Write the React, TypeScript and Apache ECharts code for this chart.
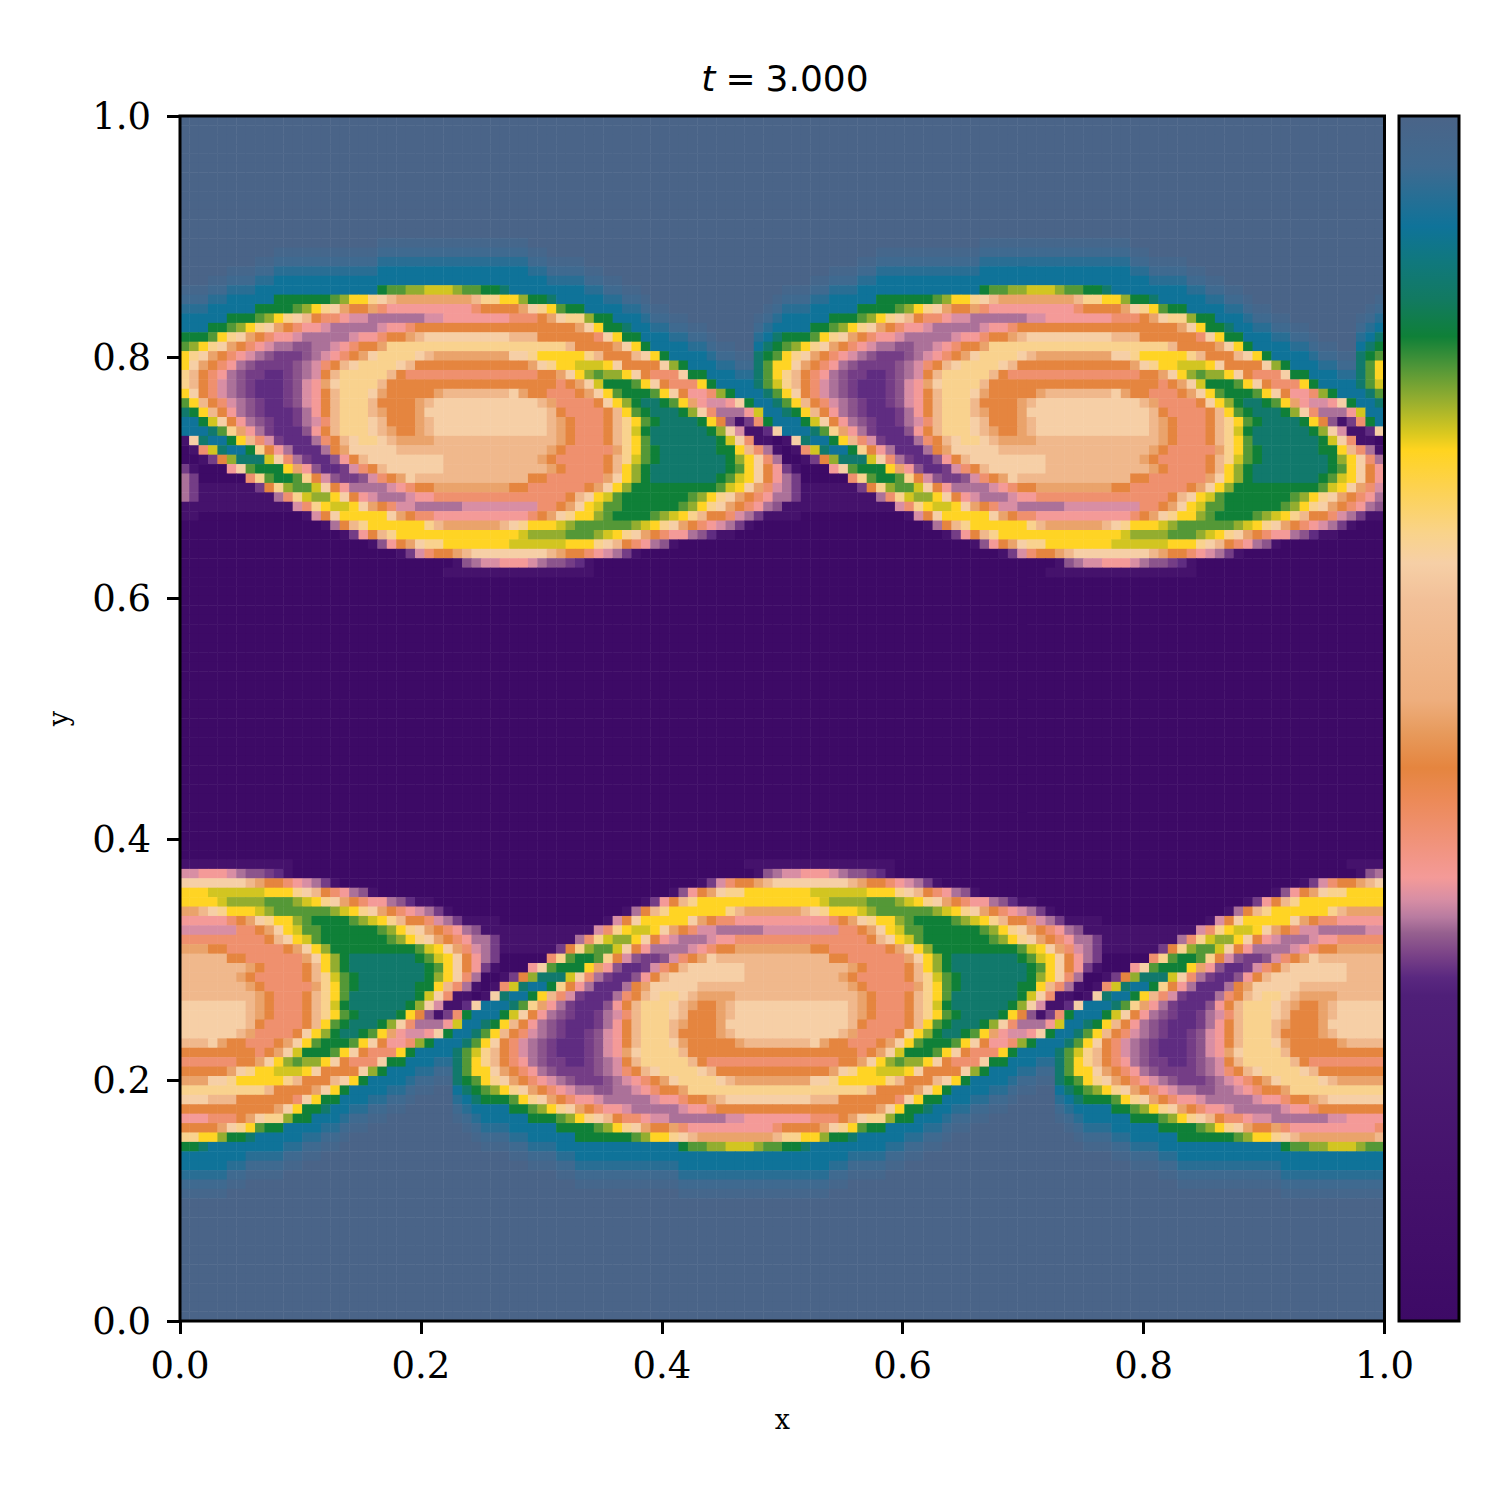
import React, { useEffect, useRef } from "react";
import * as echarts from "echarts";

const xTicks = [0, 0.2, 0.4, 0.6, 0.8, 1];
const colorStops: [number, string][] = [
  [0, "#3d0a66"], [0.12, "#45126c"], [0.27, "#4f1f78"], [0.285, "#5a2880"], [0.305, "#7c4488"],
  [0.322, "#96608f"], [0.335, "#b87ba0"], [0.35, "#d88ea4"], [0.368, "#f49a98"], [0.432, "#ec8a58"],
  [0.459, "#e5853f"], [0.488, "#e79a5c"], [0.515, "#eeae7d"], [0.598, "#f2c098"], [0.629, "#f6cfa6"],
  [0.654, "#f9d38a"], [0.695, "#fdd24b"], [0.723, "#ffd41f"], [0.737, "#d9c81f"], [0.764, "#96ae2f"],
  [0.792, "#4f9638"], [0.817, "#0f8038"], [0.847, "#127a60"], [0.88, "#10787e"], [0.908, "#0f7399"],
  [0.958, "#3f6a90"], [1, "#4a6488"],
];
const levels: Record<string, number> = {
  a: 0, b: 0.12, c: 0.288, d: 0.3, e: 0.315, f: 0.33, g: 0.35, h: 0.368, i: 0.41, j: 0.459, k: 0.5, l: 0.56,
  m: 0.629, n: 0.65, o: 0.72, p: 0.74, q: 0.765, r: 0.79, s: 0.817, t: 0.86, u: 0.908, y: 0.935, v: 0.958, x: 0.98, w: 1,
};

const rows: string[] = [
  ...Array(13).fill("w"),
  "wwwwwwwwwwwwwwww wwwwwxxxxxxxxxxx xxxxxwwwwwwwwwww wwwwwwwwwwwwwwww wwwwwwwwwwwwwwww wwwwwxxxxxxxxxxx xxxxxwwwwwwwwwww wwwwwwwwwwwwwwww",
  "wwwwwwwwwwxxxxxx xxxxxvvvvvvvvvvv vvvvvxxwwwwwwwww wwwwwwwwwwwwwwww wwwwwwwwwwxxxxxx xxxxxvvvvvvvvvvv vvvvvxxwwwwwwwww wwwwwwwwwwwwwwww",
  "wwwwwwwwxxvvvvvv vvvvvyyyyyyyyyyy yyyyyvvxxxxwwwww wwwwwwwwwwwwwwww wwwwwwwwxxvvvvvv vvvvvyyyyyyyyyyy yyyyyvvxxxxwwwww wwwwwwwwwwwwwwww",
  "wwwwwxxxvvyyyyyy yyyyyuuuuuuuuuuu uuuuuyyvvvvxxwww wwwwwwwwwwwwwwww wwwwwxxxvvyyyyyy yyyyyuuuuuuuuuuu uuuuuyyvvvvxxwww wwwwwwwwwwwwwwww",
  "wwwxxvvvyyuuuuuu uuuuuuuuuuuuuuuu uuuuuuuyyyyvvxxw wwwwwwwwwwwwwwww wwwxxvvvyyuuuuuu uuuuuuuuuuuuuuuu uuuuuuuyyyyvvxxw wwwwwwwwwwwwwwww",
  "xxxvvyyyuuuuuuuu uuuuusrrqqpppqrr sstuuuuuuuuyyvvx xwwwwwwwwwwwwwww xxxvvyyyuuuuuuuu uuuuusrrqqpppqrr sstuuuuuuuuyyvvx xwwwwwwwwwwwwwww",
  "vvvyyuuuuussssss rqoonmlkkkkkkkkl nnooqsstuuuuuyyv vxwwwwwwwwwwwwwx vvvyyuuuuussssss rqoonmlkkkkkkkkl nnooqsstuuuuuyyv vxwwwwwwwwwwwwwx",
  "yyyuuuuussssrqon mkjjkihhhhhhhhhi jjjjkmnorssuuuuy yvxxwwwwwwwwwwxv yyyuuuuussssrqon mkjjkihhhhhhhhhi jjjjkmnorssuuuuy yvxxwwwwwwwwwwxv",
  "uuuuusssrqonmlji ihggffffffgghhhh hhhiiijkmnnqssuu uyvvxxwwwwwwwxvy uuuuusssrqonmlji ihggffffffgghhhh hhhiiijkmnnqssuu uyvvxxwwwwwwwxvy",
  "uuussrqonmkjihhg fffffghhijjjjjjj jjjjjjjjjjkmosst uuyyvvxxwwwwwvyu uuussrqonmkjihhg fffffghhijjjjjjj jjjjjjjjjjkmosst uuyyvvxxwwwwwvyu",
  "sssronmkjihhgfff ffghhijjklmmmmmm mmmllljjjjjjimos suuuyyvvxwwwwyut sssronmkjihhgfff ffghhijjklmmmmmm mmmllljjjjjjimos suuuyyvvxwwwwyut",
  "rqonmkjihgffeeff ghijjknnnnnnnnnn nnnnnnnnnljjjjkm osuuuuyyvxxwwuts rqonmkjihgffeeff ghijjknnnnnnnnnn nnnnnnnnnljjjjkm osuuuuyyvxxwwuts",
  "onmkjihgfedddefg hijkmnnnnmlkkkkk kkkmmnooooonljjj lmosuuuuyvvxxtsr onmkjihgfedddefg hijkmnnnnmlkkkkk kkkmmnooooonljjj lmosuuuuyvvxxtsr",
  "omkjihfeddddefgi jlmnnnnmljjjjjjj jjjjjkmnoopppomj jjjmqsuuuyyvvtro omkjihfeddddefgi jlmnnnnmljjjjjjj jjjjjkmnoopppomj jjjmqsuuuyyvvtro",
  "nljihfeddccdefgj lnnnnnljiiiiiiii iiiiiijjkmoqrqqo mjiiimssuuuyytro nljihfeddccdefgj lnnnnnljiiiiiiii iiiiiijjkmoqrqqo mjiiimssuuuyytro",
  "nljigfedcccdeghk mnnnnljjjjjjjjjj jjjjjjjjijkmpsss romjiiiosuuuutrp nljigfedcccdeghk mnnnnljjjjjjjjjj jjjjjjjjijkmpsss romjiiiosuuuutrp",
  "omjigfedcccdeghj lnnnmkjjjjjkllll lllmkjjiiijkmors ssromjhhiqsuuutr omjigfedcccdeghj lnnnmkjjjjjkllll lllmkjjiiijkmors ssromjhhiqsuuutr",
  "roljigfedccdeghj lnnnljjjjklmmmmm mmmmmmlkiiiijmoq sttsrokhgghmsuut roljigfedccdeghj lnnnljjjjklmmmmm mmmmmmlkiiiijmoq sttsrokhgghmsuut",
  "tsoljhfedcccdfhj lnnnlkjjjkmmmmmm mmmmmmmljiiiijlo rstttsqmifffhpuu tsoljhfedcccdfhj lnnnlkjjjkmmmmmm mmmmmmmljiiiijlo rstttsqmifffhpuu",
  "uuspmjhfedccdfgi lnnnmljjjklmmmmm mmmmmmmlkjiiijln orsttttsojebdisu uuspmjhfedccdfgi lnnnmljjjklmmmmm mmmmmmmlkjiiijln orsttttsojebdisu",
  "uuutrnkhfdcccehj lnnnmlkjjklmmmmm mmmmmmmlkjiiijln psttttttsqmgbbcm uuutrnkhfdcccehj lnnnmlkjjklmmmmm mmmmmmmlkjiiijln psttttttsqmgbbcm",
  "bmtuusoligdcccfi jlmnnmlkkkklllll llllllllkjiiijln ortttttttspmibba bmtuusoligdcccfi jlmnnmlkkkklllll llllllllkjiiijln ortttttttspmibba",
  "abiptuusnjhfcccf jkmmmmmlllllllll lllllllkjiiiiikn orsttttttssolifb abiptuusnjhfcccf jkmmmmmlllllllll lllllllkjiiiiikn orsttttttssolifb",
  "aabdjqtttpmifdcc ehjlmmmmmmmmllll llllllkjiiiiijln prstttttttsqomif aabdjqtttpmifdcc ehjlmmmmmmmmllll llllllkjiiiiijln prstttttttsqomif",
  "dbaaahmrsssokhec cdgijlmmmmmmllll lllllllkjiiiijlo qsttttttttsromjh dbaaahmrsssokhec cdgijlmmmmmmllll lllllllkjiiiijlo qsttttttttsromjh",
  "fdaaaaainrssrnjg eddegijkmlllllll llllljjiiiiiikmo qstttttttsrpomjh fdaaaaainrssrnjg eddegijkmlllllll llllljjiiiiiikmo qstttttttsrpomjh",
  "fdbbbbbbdjnqrrpm jhffffghijjkkkkk kkkjjiiiiiijkmoq sssssssssrpomkig fdbbbbbbdjnqrrpm jhffffghijjkkkkk kkkjjiiiiiijkmoq sssssssssrpomkig",
  "fdbbbbbbbbfinpqq omjhgfffghhiiiii iiiiiiiiijlmoprs ssssssrqonmkjihf fdbbbbbbbbfinpqq omjhgfffghhiiiii iiiiiiiiijlmoprs ssssssrqonmkjihf",
  "bbbbbbbbbbbbgino ppomkjiggfffffgg ggggggiijkmoprrs sssssrqonmkjihfe bbbbbbbbbbbbgino ppomkjiggfffffgg ggggggiijkmoprrs sssssrqonmkjihfe",
  "bbaaaaaaaaaaabgj mooooomkjiihhhhh hhhhhijkmnooqrss ssrqponljjigfdbb bbaaaaaaaaaaabgj mooooomkjiihhhhh hhhhhijkmnooqrss ssrqponljjigfdbb",
  "aaaaaaaaaaaaaaab fjlnoooooonlkkkk kklmnooopqrrrrrr qponmkjihgfdbaaa aaaaaaaaaaaaaaab fjlnoooooonlkkkk kklmnooopqrrrrrr qponmkjihgfdbaaa",
  "aaaaaaaaaaaaaaaa abdhjlnooooooooo oooopqqqqrrrqpon mkjihhfecbbaaaaa aaaaaaaaaaaaaaaa abdhjlnooooooooo oooopqqqqrrrqpon mkjihhfecbbaaaaa",
  "aaaaaaaaaaaaaaaa aaaabehjkmnnoooo oooppppppooonmlj ihfebaaaaaaaaaaa aaaaaaaaaaaaaaaa aaaabehjkmnnoooo oooppppppooonmlj ihfebaaaaaaaaaaa",
  "aaaaaaaaaaaaaaaa aaaaaaabdgijjklm mmmmmmmlkjjihgfd baaaaaaaaaaaaaaa aaaaaaaaaaaaaaaa aaaaaaabdgijjklm mmmmmmmlkjjihgfd baaaaaaaaaaaaaaa",
  "aaaaaaaaaaaaaaaa aaaaaaaaaaaaabef gghhhgfeedcbaaaa aaaaaaaaaaaaaaaa aaaaaaaaaaaaaaaa aaaaaaaaaaaaabef gghhhgfeedcbaaaa aaaaaaaaaaaaaaaa",
  "aaaaaaaaaaaaaaaa aaaaaaaaaaaabbbb bbbbbbbbbbbbaaaa aaaaaaaaaaaaaaaa aaaaaaaaaaaaaaaa aaaaaaaaaaaabbbb bbbbbbbbbbbbaaaa aaaaaaaaaaaaaaaa",
  ...Array(30).fill("a"),
  "bbbbbbbbbbbbaaaa aaaaaaaaaaaaaaaa aaaaaaaaaaaaaaaa aaaaaaaaaaaabbbb bbbbbbbbbbbbaaaa aaaaaaaaaaaaaaaa aaaaaaaaaaaaaaaa aaaaaaaaaaaabbbb",
  "gghhhgfeedcbaaaa aaaaaaaaaaaaaaaa aaaaaaaaaaaaaaaa aaaaaaaaaaaaabef gghhhgfeedcbaaaa aaaaaaaaaaaaaaaa aaaaaaaaaaaaaaaa aaaaaaaaaaaaabef",
  "mmmmmmmlkjjihgfd baaaaaaaaaaaaaaa aaaaaaaaaaaaaaaa aaaaaaabdgijjklm mmmmmmmlkjjihgfd baaaaaaaaaaaaaaa aaaaaaaaaaaaaaaa aaaaaaabdgijjklm",
  "oooppppppooonmlj ihfebaaaaaaaaaaa aaaaaaaaaaaaaaaa aaaabehjkmnnoooo oooppppppooonmlj ihfebaaaaaaaaaaa aaaaaaaaaaaaaaaa aaaabehjkmnnoooo",
  "oooopqqqqrrrqpon mkjihhfecbbaaaaa aaaaaaaaaaaaaaaa abdhjlnooooooooo oooopqqqqrrrqpon mkjihhfecbbaaaaa aaaaaaaaaaaaaaaa abdhjlnooooooooo",
  "kklmnooopqrrrrrr qponmkjihgfdbaaa aaaaaaaaaaaaaaab fjlnoooooonlkkkk kklmnooopqrrrrrr qponmkjihgfdbaaa aaaaaaaaaaaaaaab fjlnoooooonlkkkk",
  "hhhhhijkmnooqrss ssrqponljjigfdbb bbaaaaaaaaaaabgj mooooomkjiihhhhh hhhhhijkmnooqrss ssrqponljjigfdbb bbaaaaaaaaaaabgj mooooomkjiihhhhh",
  "ggggggiijkmoprrs sssssrqonmkjihfe bbbbbbbbbbbbgino ppomkjiggfffffgg ggggggiijkmoprrs sssssrqonmkjihfe bbbbbbbbbbbbgino ppomkjiggfffffgg",
  "iiiiiiiiijlmoprs ssssssrqonmkjihf fdbbbbbbbbfinpqq omjhgfffghhiiiii iiiiiiiiijlmoprs ssssssrqonmkjihf fdbbbbbbbbfinpqq omjhgfffghhiiiii",
  "kkkjjiiiiiijkmoq sssssssssrpomkig fdbbbbbbdjnqrrpm jhffffghijjkkkkk kkkjjiiiiiijkmoq sssssssssrpomkig fdbbbbbbdjnqrrpm jhffffghijjkkkkk",
  "llllljjiiiiiikmo qstttttttsrpomjh fdaaaaainrssrnjg eddegijkmlllllll llllljjiiiiiikmo qstttttttsrpomjh fdaaaaainrssrnjg eddegijkmlllllll",
  "lllllllkjiiiijlo qsttttttttsromjh dbaaahmrsssokhec cdgijlmmmmmmllll lllllllkjiiiijlo qsttttttttsromjh dbaaahmrsssokhec cdgijlmmmmmmllll",
  "llllllkjiiiiijln prstttttttsqomif aabdjqtttpmifdcc ehjlmmmmmmmmllll llllllkjiiiiijln prstttttttsqomif aabdjqtttpmifdcc ehjlmmmmmmmmllll",
  "lllllllkjiiiiikn orsttttttssolifb abiptuusnjhfcccf jkmmmmmlllllllll lllllllkjiiiiikn orsttttttssolifb abiptuusnjhfcccf jkmmmmmlllllllll",
  "llllllllkjiiijln ortttttttspmibba bmtuusoligdcccfi jlmnnmlkkkklllll llllllllkjiiijln ortttttttspmibba bmtuusoligdcccfi jlmnnmlkkkklllll",
  "mmmmmmmlkjiiijln psttttttsqmgbbcm uuutrnkhfdcccehj lnnnmlkjjklmmmmm mmmmmmmlkjiiijln psttttttsqmgbbcm uuutrnkhfdcccehj lnnnmlkjjklmmmmm",
  "mmmmmmmlkjiiijln orsttttsojebdisu uuspmjhfedccdfgi lnnnmljjjklmmmmm mmmmmmmlkjiiijln orsttttsojebdisu uuspmjhfedccdfgi lnnnmljjjklmmmmm",
  "mmmmmmmljiiiijlo rstttsqmifffhpuu tsoljhfedcccdfhj lnnnlkjjjkmmmmmm mmmmmmmljiiiijlo rstttsqmifffhpuu tsoljhfedcccdfhj lnnnlkjjjkmmmmmm",
  "mmmmmmlkiiiijmoq sttsrokhgghmsuut roljigfedccdeghj lnnnljjjjklmmmmm mmmmmmlkiiiijmoq sttsrokhgghmsuut roljigfedccdeghj lnnnljjjjklmmmmm",
  "lllmkjjiiijkmors ssromjhhiqsuuutr omjigfedcccdeghj lnnnmkjjjjjkllll lllmkjjiiijkmors ssromjhhiqsuuutr omjigfedcccdeghj lnnnmkjjjjjkllll",
  "jjjjjjjjijkmpsss romjiiiosuuuutrp nljigfedcccdeghk mnnnnljjjjjjjjjj jjjjjjjjijkmpsss romjiiiosuuuutrp nljigfedcccdeghk mnnnnljjjjjjjjjj",
  "iiiiiijjkmoqrqqo mjiiimssuuuyytro nljihfeddccdefgj lnnnnnljiiiiiiii iiiiiijjkmoqrqqo mjiiimssuuuyytro nljihfeddccdefgj lnnnnnljiiiiiiii",
  "jjjjjkmnoopppomj jjjmqsuuuyyvvtro omkjihfeddddefgi jlmnnnnmljjjjjjj jjjjjkmnoopppomj jjjmqsuuuyyvvtro omkjihfeddddefgi jlmnnnnmljjjjjjj",
  "kkkmmnooooonljjj lmosuuuuyvvxxtsr onmkjihgfedddefg hijkmnnnnmlkkkkk kkkmmnooooonljjj lmosuuuuyvvxxtsr onmkjihgfedddefg hijkmnnnnmlkkkkk",
  "nnnnnnnnnljjjjkm osuuuuyyvxxwwuts rqonmkjihgffeeff ghijjknnnnnnnnnn nnnnnnnnnljjjjkm osuuuuyyvxxwwuts rqonmkjihgffeeff ghijjknnnnnnnnnn",
  "mmmllljjjjjjimos suuuyyvvxwwwwyut sssronmkjihhgfff ffghhijjklmmmmmm mmmllljjjjjjimos suuuyyvvxwwwwyut sssronmkjihhgfff ffghhijjklmmmmmm",
  "jjjjjjjjjjkmosst uuyyvvxxwwwwwvyu uuussrqonmkjihhg fffffghhijjjjjjj jjjjjjjjjjkmosst uuyyvvxxwwwwwvyu uuussrqonmkjihhg fffffghhijjjjjjj",
  "hhhiiijkmnnqssuu uyvvxxwwwwwwwxvy uuuuusssrqonmlji ihggffffffgghhhh hhhiiijkmnnqssuu uyvvxxwwwwwwwxvy uuuuusssrqonmlji ihggffffffgghhhh",
  "jjjjkmnorssuuuuy yvxxwwwwwwwwwwxv yyyuuuuussssrqon mkjjkihhhhhhhhhi jjjjkmnorssuuuuy yvxxwwwwwwwwwwxv yyyuuuuussssrqon mkjjkihhhhhhhhhi",
  "nnooqsstuuuuuyyv vxwwwwwwwwwwwwwx vvvyyuuuuussssss rqoonmlkkkkkkkkl nnooqsstuuuuuyyv vxwwwwwwwwwwwwwx vvvyyuuuuussssss rqoonmlkkkkkkkkl",
  "sstuuuuuuuuyyvvx xwwwwwwwwwwwwwww xxxvvyyyuuuuuuuu uuuuusrrqqpppqrr sstuuuuuuuuyyvvx xwwwwwwwwwwwwwww xxxvvyyyuuuuuuuu uuuuusrrqqpppqrr",
  "uuuuuuuyyyyvvxxw wwwwwwwwwwwwwwww wwwxxvvvyyuuuuuu uuuuuuuuuuuuuuuu uuuuuuuyyyyvvxxw wwwwwwwwwwwwwwww wwwxxvvvyyuuuuuu uuuuuuuuuuuuuuuu",
  "uuuuuyyvvvvxxwww wwwwwwwwwwwwwwww wwwwwxxxvvyyyyyy yyyyyuuuuuuuuuuu uuuuuyyvvvvxxwww wwwwwwwwwwwwwwww wwwwwxxxvvyyyyyy yyyyyuuuuuuuuuuu",
  "yyyyyvvxxxxwwwww wwwwwwwwwwwwwwww wwwwwwwwxxvvvvvv vvvvvyyyyyyyyyyy yyyyyvvxxxxwwwww wwwwwwwwwwwwwwww wwwwwwwwxxvvvvvv vvvvvyyyyyyyyyyy",
  "vvvvvxxwwwwwwwww wwwwwwwwwwwwwwww wwwwwwwwwwxxxxxx xxxxxvvvvvvvvvvv vvvvvxxwwwwwwwww wwwwwwwwwwwwwwww wwwwwwwwwwxxxxxx xxxxxvvvvvvvvvvv",
  "xxxxxwwwwwwwwwww wwwwwwwwwwwwwwww wwwwwwwwwwwwwwww wwwwwxxxxxxxxxxx xxxxxwwwwwwwwwww wwwwwwwwwwwwwwww wwwwwwwwwwwwwwww wwwwwxxxxxxxxxxx",
  ...Array(13).fill("w"),
];

const N = 128;
const cells: [number, number, number][] = [];
rows.forEach((raw, r) => {
  const s = raw.replace(/ /g, "");
  for (let c = 0; c < N; c++) {
    const ch = s[c] ?? s[s.length - 1];
    cells.push([c, r, levels[ch]]);
  }
});
const indices = Array.from({ length: N }, (_, i) => String(i));

function hex(c: string) {
  return [1, 3, 5].map((i) => parseInt(c.slice(i, i + 2), 16));
}
const lut: string[] = [];
for (let i = 0; i <= 1000; i++) {
  const v = i / 1000;
  let k = 0;
  while (k < colorStops.length - 2 && v > colorStops[k + 1][0]) k++;
  const [v0, c0] = colorStops[k];
  const [v1, c1] = colorStops[k + 1];
  const t = (v - v0) / (v1 - v0);
  const a = hex(c0);
  const b = hex(c1);
  lut.push(`rgb(${a.map((x, j) => Math.round(x + (b[j] - x) * t)).join(",")})`);
}

const L = 180, T = 116, W = 1204.5, H = 1205;
const CX = 1399, CW = 60;

export default function App() {
  const ref = useRef<HTMLDivElement>(null);
  useEffect(() => {
    const chart = echarts.init(ref.current!, undefined, { renderer: "svg" });
    const tickLabel = { fontFamily: "DejaVu Serif", fontSize: 37, color: "#000", formatter: (v: number) => v.toFixed(1) };
    const titleFont = { fontFamily: "DejaVu Sans", fontSize: 36, fontWeight: "normal", color: "#000" };
    chart.setOption({
      animation: false,
      backgroundColor: "#fff",
      title: {
        text: "{i|t}{e|=}{n|3.000}",
        left: 780,
        top: 55,
        textAlign: "center",
        textStyle: {
          fontWeight: "normal",
          rich: {
            i: { ...titleFont, fontStyle: "italic" },
            e: { ...titleFont, padding: [0, 10, 0, 10] },
            n: titleFont,
          },
        },
      },
      grid: [
        { left: L, top: T, width: W, height: H },
        { left: L, top: T, width: W, height: H },
      ],
      xAxis: [
        { gridIndex: 0, type: "category", data: indices, show: false },
        {
          gridIndex: 1, type: "value", min: 0, max: 1, interval: xTicks[1],
          splitLine: { show: false }, axisLine: { show: false },
          axisTick: { length: 13, lineStyle: { color: "#000", width: 3 } },
          axisLabel: { ...tickLabel, margin: 26 },
          name: "x", nameLocation: "middle", nameGap: 85,
          nameTextStyle: { fontFamily: "DejaVu Serif", fontSize: 27, color: "#000" },
        },
      ],
      yAxis: [
        { gridIndex: 0, type: "category", data: indices, show: false, inverse: true },
        {
          gridIndex: 1, type: "value", min: 0, max: 1, interval: xTicks[1],
          splitLine: { show: false }, axisLine: { show: false },
          axisTick: { length: 13, lineStyle: { color: "#000", width: 3 } },
          axisLabel: { ...tickLabel, margin: 29 },
          name: "y", nameLocation: "middle", nameGap: 108,
          nameTextStyle: { fontFamily: "DejaVu Serif", fontSize: 27, color: "#000" },
        },
      ],
      visualMap: { show: false, min: 0, max: 1, dimension: 2, seriesIndex: 0, inRange: { color: lut } },
      series: [
        { type: "heatmap", xAxisIndex: 0, yAxisIndex: 0, data: cells, itemStyle: { borderWidth: 0 }, emphasis: { disabled: true }, progressive: 0 },
      ],
      graphic: [
        { type: "rect", z: 100, shape: { x: L, y: T, width: W, height: H }, style: { fill: "none", stroke: "#000", lineWidth: 3 } },
        {
          type: "rect", z: 100, shape: { x: CX, y: T, width: CW, height: H },
          style: {
            fill: new echarts.graphic.LinearGradient(0, 1, 0, 0, colorStops.map(([offset, color]) => ({ offset, color }))),
            stroke: "#000", lineWidth: 3,
          },
        },
      ],
    });
    return () => chart.dispose();
  }, []);
  return <div ref={ref} style={{ position: "absolute", left: 0, top: 0, width: 1500, height: 1500 }} />;
}
